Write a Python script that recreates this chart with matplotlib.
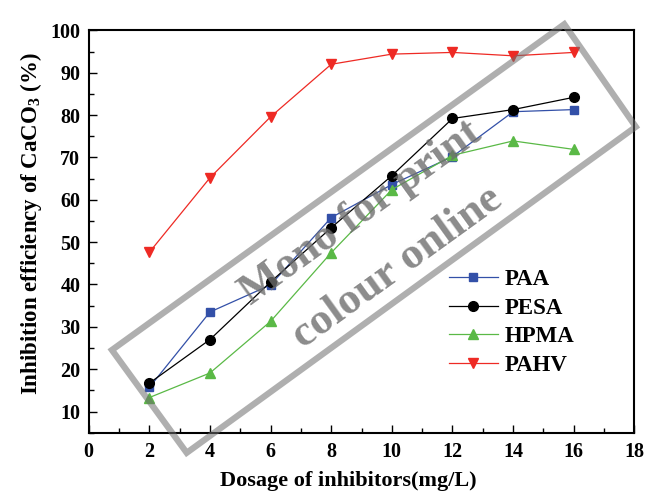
import matplotlib
matplotlib.use('Agg')
import matplotlib.pyplot as plt
from matplotlib.patches import Polygon
from matplotlib.ticker import MultipleLocator

plt.rcParams['font.family'] = 'Liberation Serif'
plt.rcParams['font.weight'] = 'bold'
plt.rcParams['mathtext.fontset'] = 'custom'
plt.rcParams['mathtext.rm'] = 'Liberation Serif:bold'
plt.rcParams['mathtext.bf'] = 'Liberation Serif:bold'
plt.rcParams['mathtext.default'] = 'rm'

dosage = [2, 4, 6, 8, 10, 12, 14, 16]
paa = [15.7, 33.5, 39.9, 55.8, 63.6, 70.2, 80.8, 81.3]
pesa = [16.7, 27.0, 40.6, 53.4, 65.7, 79.2, 81.3, 84.2]
hpma = [13.3, 19.1, 31.3, 47.5, 62.4, 70.5, 73.9, 71.9]
pahv = [47.6, 65.2, 79.6, 92.0, 94.4, 94.8, 94.0, 94.8]

series = [
    ('PAA', paa, '#3350a8', 's', 6),
    ('PESA', pesa, 'black', 'o', 7),
    ('HPMA', hpma, '#5ab946', '^', 7),
    ('PAHV', pahv, '#ee2a24', 'v', 7),
]

W, H = 645, 495
# axes box in pixels (left, top, right, bottom)
L, T, R, B = 88.7, 30.4, 634.4, 432.7

fig = plt.figure(figsize=(W / 100, H / 100), dpi=100)
ax = fig.add_axes([L / W, 1 - B / H, (R - L) / W, (B - T) / H])

for name, vals, color, marker, ms in series:
    ax.plot(dosage, vals, color=color, marker=marker, markersize=ms,
            linewidth=0.9, label=name)

ax.set_xlim(0, 18)
ax.set_ylim(5, 100)
ax.xaxis.set_major_locator(MultipleLocator(2))
ax.xaxis.set_minor_locator(MultipleLocator(1))
ax.yaxis.set_major_locator(MultipleLocator(10))
ax.yaxis.set_minor_locator(MultipleLocator(5))
ax.tick_params(which='both', direction='in', top=False, right=False,
               labelsize=14.5, width=1.0)
ax.tick_params(which='major', length=6)
ax.tick_params(which='minor', length=3.5)
ax.tick_params(axis='y', pad=6)
ax.tick_params(axis='x', pad=7)
for sp in ax.spines.values():
    sp.set_linewidth(1.5)

ax.set_xlabel('Dosage of inhibitors(mg/L)', fontsize=16, fontweight='bold')
ax.xaxis.set_label_coords(0.475, -0.095)
ax.set_ylabel('Inhibition efficiency of CaCO$_3$ (%)', fontsize=16.5,
              fontweight='bold')
ax.yaxis.set_label_coords(-0.082, 0.519)

ax.legend(loc='upper left', bbox_to_anchor=(0.661, 0.407), frameon=False,
          prop={'size': 16.5, 'weight': 'bold'}, handlelength=2.1,
          handletextpad=0.3, labelspacing=0.33, borderpad=0,
          borderaxespad=0)

# watermark box and text
corners = [(111.9, 350.0), (186.7, 452.8), (635.8, 126.8), (564.3, 24.2)]
pts = [(x / W, 1 - y / H) for x, y in corners]
fig.patches.append(Polygon(pts, closed=True, fill=False, edgecolor='#6e6e6e',
                           linewidth=4.5, alpha=0.55, transform=fig.transFigure,
                           zorder=5))
fig.text(367 / W, 1 - 222 / H, 'Mono for print', rotation=35.8, fontsize=32,
         fontweight='bold', color='#6e6e6e', alpha=0.8, ha='center',
         va='baseline', rotation_mode='anchor', zorder=6)
fig.text(404 / W, 1 - 276 / H, 'colour online', rotation=35.8, fontsize=32,
         fontweight='bold', color='#6e6e6e', alpha=0.8, ha='center',
         va='baseline', rotation_mode='anchor', zorder=6)

fig.savefig('out.png', dpi=100)
